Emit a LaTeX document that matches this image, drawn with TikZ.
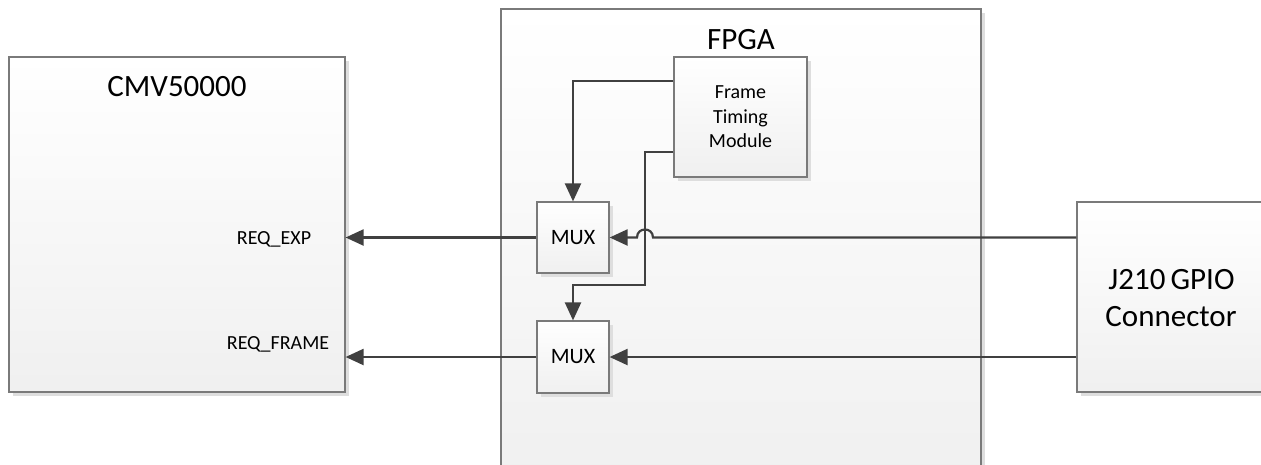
\documentclass[tikz,border=0pt]{standalone}
\usepackage{fontspec}
\setmainfont{Carlito}
\usetikzlibrary{arrows.meta,shadows,calc}
\definecolor{linec}{HTML}{404040}
\definecolor{edgec}{HTML}{7A7A7A}
\tikzset{
  blockbox/.style={draw=edgec, line width=1.2pt, rectangle, inner sep=0pt,
    top color=white, bottom color=black!6,
    drop shadow={shadow xshift=4pt, shadow yshift=-4pt, fill=black!13, opacity=1}},
  sig/.style={draw=linec, line width=2.2pt, -{Triangle[length=18pt,width=16pt]}},
  lbl/.style={inner sep=0pt, text=black}
}
\begin{document}
\begin{tikzpicture}[x=1pt,y=-1pt]
\useasboundingbox[fill=white] (0,0) rectangle (1261,464);
% boxes
\node[blockbox, minimum width=336pt, minimum height=335pt] (cmv) at (177,224.5) {};
\node[blockbox, minimum width=480pt, minimum height=480pt] (fpga) at (741,249) {};
\node[blockbox, minimum width=198pt, minimum height=190pt] (j210) at (1176,297) {};
\node[blockbox, minimum width=133pt, minimum height=120pt] (frame) at (740.5,117) {};
\node[blockbox, minimum width=72pt, minimum height=71pt] (mux1) at (573,237.5) {};
\node[blockbox, minimum width=72pt, minimum height=72pt] (mux2) at (573,357) {};
% titles
\node[lbl, anchor=base, font=\fontsize{31}{37}\selectfont] (cmvt) at (177,96.5) {CMV50000};
\node[lbl, anchor=base, font=\fontsize{31}{37}\selectfont] (fpgat) at (741,49.3) {FPGA};
\node[lbl, anchor=base, font=\fontsize{31}{37}\selectfont] (j1) at (1171.5,289) {J210\,GPIO};
\node[lbl, anchor=base, font=\fontsize{31}{37}\selectfont] (j2) at (1171,326) {Connector};
\node[lbl, align=center, font=\fontsize{20}{24.5}\selectfont] (framet) at (frame.center) {Frame\\Timing\\Module};
\node[lbl, font=\fontsize{22}{26}\selectfont] (m1t) at (mux1.center) {MUX};
\node[lbl, font=\fontsize{22}{26}\selectfont] (m2t) at (mux2.center) {MUX};
\node[lbl, anchor=base, font=\fontsize{20}{24}\selectfont] (rexp) at (274,244) {REQ\_EXP};
\node[lbl, anchor=base, font=\fontsize{20}{24}\selectfont] (rfr) at (278,349) {REQ\_FRAME};
% connectors
\coordinate (bend) at (645,285);
\draw[sig] (mux1.west) -- (mux1.west -| cmv.east);
\draw[sig] (mux2.west) -- (mux2.west -| cmv.east);
\draw[sig] (j210.west |- mux2.east) -- (mux2.east);
\draw[sig] ([yshift=36pt]frame.west) -| (mux1.north);
\draw[sig] ([yshift=-35pt]frame.west) -| (bend) -| (mux2.north);
\draw[sig] (j210.west |- mux1.east) -- (653,237.5)
  .. controls (653,226.8) and (637,226.8) .. (637,237.5) -- (mux1.east);
\end{tikzpicture}
\end{document}
